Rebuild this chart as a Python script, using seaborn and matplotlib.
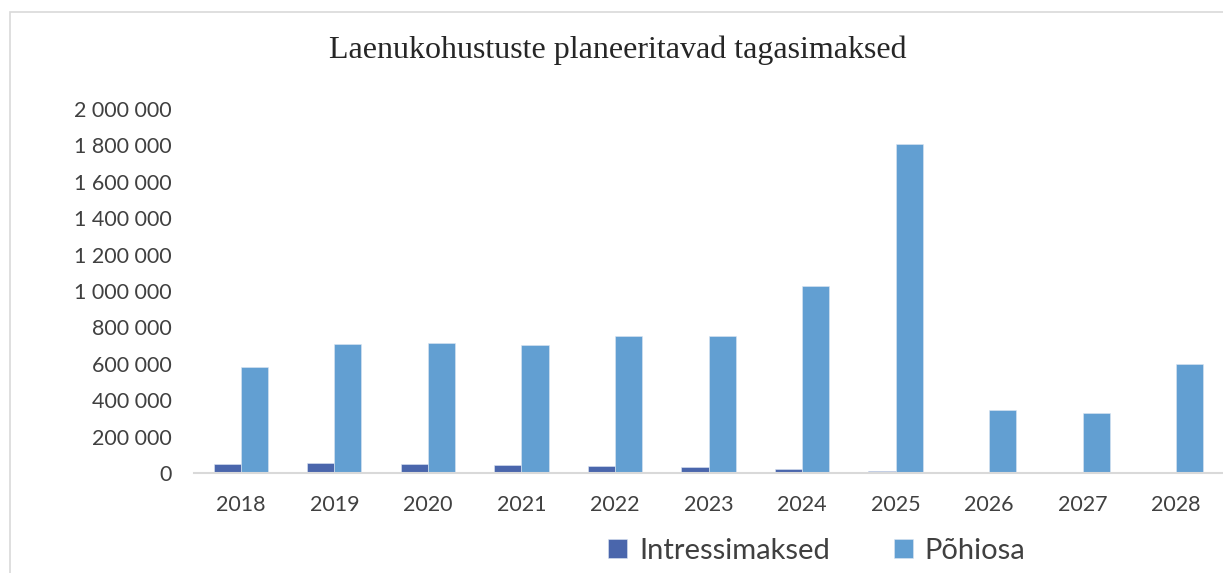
import numpy as np
import pandas as pd
import seaborn as sns
import matplotlib.pyplot as plt
from matplotlib.patches import Rectangle
from matplotlib.ticker import FuncFormatter

# Chart data
years = ["2018", "2019", "2020", "2021", "2022", "2023",
         "2024", "2025", "2026", "2027", "2028"]
intressimaksed = [48000, 53000, 48000, 42000, 37000, 32000,
                  22000, 13000, 6000, 3000, 2000]
pohiosa = [580000, 707000, 713000, 702000, 751000, 751000,
           1027000, 1805000, 348000, 332000, 597000]
series = ["Intressimaksed", "Põhiosa"]
colors = ["#4a66ac", "#629fd2"]
y_ticks = [0, 200000, 400000, 600000, 800000, 1000000,
           1200000, 1400000, 1600000, 1800000, 2000000]

df = pd.DataFrame({
    "Aasta": years * 2,
    "Seeria": [series[0]] * len(years) + [series[1]] * len(years),
    "Summa": intressimaksed + pohiosa,
})

sns.set_style("white")
plt.rcParams["font.family"] = ["Lato", "DejaVu Sans"]
text_col = "#404040"

fig = plt.figure(figsize=(12.23, 5.73), dpi=100)
ax = fig.add_axes([194 / 1223, 1 - 473 / 573, 1 - 194 / 1223, (473 - 109) / 573])

bars = sns.barplot(data=df, x="Aasta", y="Summa", hue="Seeria",
                   palette=dict(zip(series, colors)), width=0.58,
                   edgecolor="#dce6f2", linewidth=0.4, saturation=1, ax=ax)

ax.set_ylim(0, 2000000)
ax.set_xlim(-0.5, 10.5)
ax.set_yticks(y_ticks)
ax.yaxis.set_major_formatter(FuncFormatter(lambda v, p: f"{int(v):,}".replace(",", " ")))
ax.tick_params(axis="y", length=0, pad=16, labelsize=15.5, labelcolor=text_col)
ax.tick_params(axis="x", length=0, pad=16, labelsize=15.5, labelcolor=text_col)
ax.set_xlabel("")
ax.set_ylabel("")
for side in ["left", "top", "right"]:
    ax.spines[side].set_visible(False)
ax.spines["bottom"].set_color("#d9d9d9")
ax.spines["bottom"].set_linewidth(1.5)

fig.text(618 / 1223, 1 - 50 / 573, "Laenukohustuste planeeritavad tagasimaksed",
         ha="center", va="center", fontsize=23, color="#262626",
         family=["Liberation Serif", "DejaVu Serif"])

handles, labels = ax.get_legend_handles_labels()
ax.legend_.remove()
fig.legend(handles, labels, loc="center", bbox_to_anchor=(817 / 1223, 1 - 551 / 573),
           ncol=2, frameon=False, fontsize=21, labelcolor=text_col,
           handlelength=0.65, handleheight=0.65, handletextpad=0.4, columnspacing=2.2)

# outer chart frame
fig.patches.append(Rectangle((10 / 1223, -0.1), 1.2, 1 - 12 / 573 + 0.1,
                             transform=fig.transFigure, fill=False,
                             edgecolor="#d9d9d9", linewidth=1.2))

fig.savefig("out.png", dpi=100)
